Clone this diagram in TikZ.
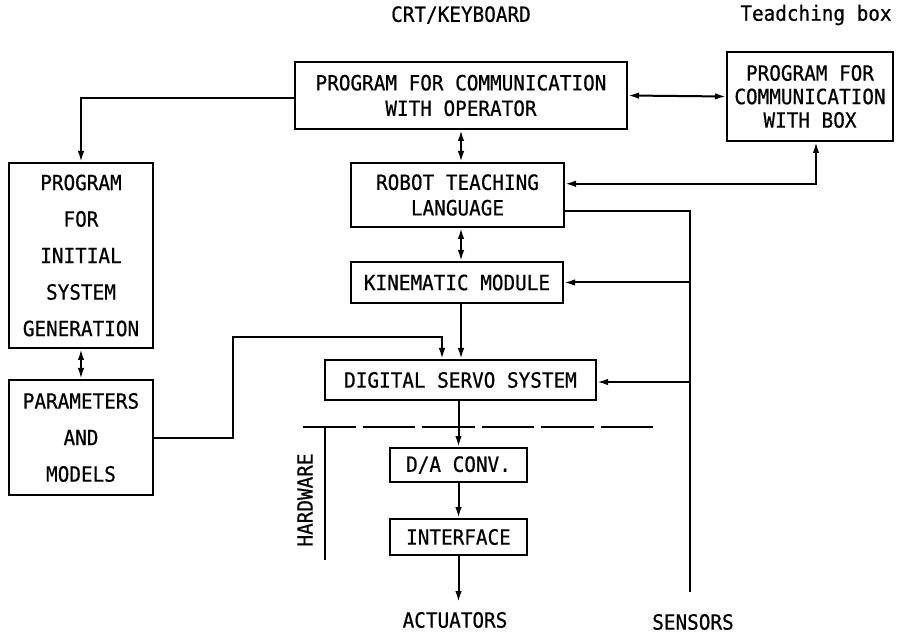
\documentclass[tikz,border=0pt]{standalone}
\usepackage{fontspec}
\newfontfamily\gothic[FakeStretch=0.92,FakeBold=0.6]{DejaVu Sans Mono}
\usetikzlibrary{arrows.meta,calc}

\begin{document}
\begin{tikzpicture}[x=1pt,y=-1pt,
  box/.style={draw,line width=2pt,inner sep=0pt,align=center,
    font=\gothic\fontsize{21}{25.5}\selectfont},
  tallbox/.style={box,font=\gothic\fontsize{21}{36.5}\selectfont},
  lbl/.style={inner sep=0pt,font=\gothic\fontsize{21}{25}\selectfont},
  wire/.style={line width=2pt},
  arr/.style={wire,-{Latex[length=11pt,width=6.5pt]}},
  darr/.style={wire,{Latex[length=11pt,width=6.5pt]}-{Latex[length=11pt,width=6.5pt]}},
]
\useasboundingbox (0,0) rectangle (908,636);

% external labels
\node[lbl] (crt) at (461,15) {CRT/KEYBOARD};
\node[lbl] (tbt) at (816,15) {Teadching box};
\node[lbl] (act) at (455,620) {ACTUATORS};
\node[lbl] (sen) at (693,622) {SENSORS};

% software boxes
\node[box,minimum width=332pt,minimum height=67pt] (op) at (461,95.5)
  {PROGRAM FOR COMMUNICATION\\WITH OPERATOR};
\node[box,minimum width=166pt,minimum height=89pt,
  font=\gothic\fontsize{21}{23.5}\selectfont] (tb) at (810,96.5)
  {PROGRAM FOR\\COMMUNICATION\\WITH BOX};
\node[tallbox,minimum width=144pt,minimum height=185pt] (gen) at (81,255.5)
  {PROGRAM\\FOR\\INITIAL\\SYSTEM\\GENERATION};
\node[tallbox,minimum width=144pt,minimum height=115pt] (par) at (81,437.5)
  {PARAMETERS\\AND\\MODELS};
\node[box,minimum width=213pt,minimum height=64pt] (rtl) at (457.5,195)
  {ROBOT TEACHING\\LANGUAGE};
\node[box,minimum width=212pt,minimum height=41pt] (km) at (457,282.5)
  {KINEMATIC MODULE};
\node[box,minimum width=271pt,minimum height=40pt] (dss) at (460.5,380)
  {DIGITAL SERVO SYSTEM};

% hardware boxes
\node[box,minimum width=137pt,minimum height=34pt] (da) at (458.5,465)
  {D/A CONV.};
\node[box,minimum width=137pt,minimum height=36pt] (intf) at (458.5,537)
  {INTERFACE};

% software / hardware boundary
\draw[wire,dash pattern=on 52.5pt off 7pt] (303,427) -- (653,427);
\draw[wire] (325,427) -- (325,560);
\node[lbl,rotate=90] (hw) at (305,500) {HARDWARE};

% connection points on box sides
\coordinate (rtlin)  at ($(rtl.north east)!0.33!(rtl.south east)$);
\coordinate (rtlout) at ($(rtl.north east)!0.74!(rtl.south east)$);
\coordinate (dssin)  at ($(dss.north west)+(118,0)$);
\coordinate (sbus)   at (690,592);

% main chain
\draw[arr]  ($(op.west)+(0,3)$) -| (gen.north);
\draw[darr] (op.east) -- (tb.west);
\draw[darr] (op.south) -- (op.south |- rtl.north);
\draw[darr] (rtl.south -| op.south) -- (op.south |- km.north);
\draw[arr]  (op.south |- km.south) -- (op.south |- dss.north);
\draw[arr]  (da.north |- dss.south) -- (da.north);
\draw[arr]  (da.south) -- (intf.north);
\draw[arr]  (intf.south) -- ++(0,46);
\draw[darr] (gen.south) -- (par.north);

% teaching box link
\draw[darr] ($(tb.south)+(6,0)$) |- (rtlin);

% parameters to servo system
\draw[arr] (par.east) -- ++(79,0) |- ($(dssin)+(0,-22)$) -- (dssin);

% sensor bus
\draw[wire] (rtlout) -| (sbus);
\draw[arr] (sbus |- km.east) -- (km.east);
\draw[arr] ($(sbus |- dss.east)+(0,2)$) -- ($(dss.east)+(0,2)$);
\end{tikzpicture}
\end{document}
